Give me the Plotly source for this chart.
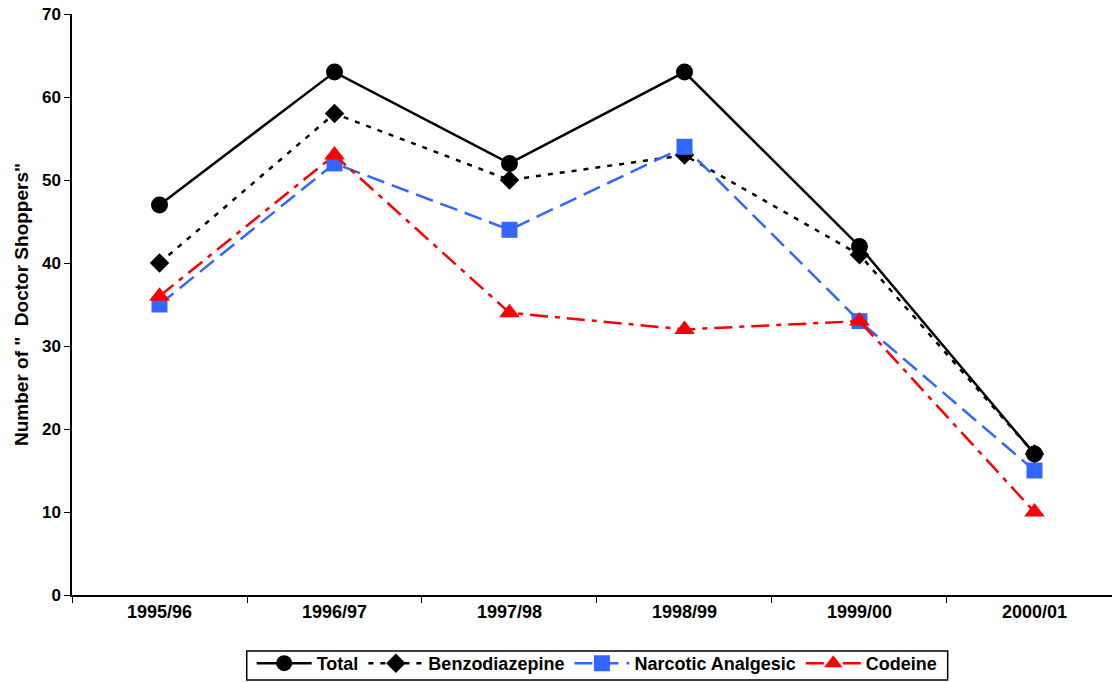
import plotly.graph_objects as go

years = ["1995/96", "1996/97", "1997/98", "1998/99", "1999/00", "2000/01"]
total = [47, 63, 52, 63, 42, 17]
benzo = [40, 58, 50, 53, 41, 17]
narcotic = [35, 52, 44, 54, 33, 15]
codeine = [36, 53, 34, 32, 33, 10]

fig = go.Figure()
fig.add_trace(go.Scatter(x=years, y=total, name="Total", mode="lines+markers",
                         line=dict(color="black", width=2.5),
                         marker=dict(symbol="circle", size=17, color="black")))
fig.add_trace(go.Scatter(x=years, y=benzo, name="Benzodiazepine", mode="lines+markers",
                         line=dict(color="black", width=2.5, dash="5px,7px"),
                         marker=dict(symbol="diamond", size=15, color="black")))
fig.add_trace(go.Scatter(x=years, y=narcotic, name="Narcotic Analgesic", mode="lines+markers",
                         line=dict(color="#3366FF", width=2.5, dash="18px,8px"),
                         marker=dict(symbol="square", size=16, color="#3366FF")))
fig.add_trace(go.Scatter(x=years, y=codeine, name="Codeine", mode="lines+markers",
                         line=dict(color="#FF0000", width=2.5, dash="18px,7px,5px,7px"),
                         marker=dict(symbol="triangle-up", size=18, color="#FF0000")))

font_main = "Liberation Sans, Arial, sans-serif"
fig.update_layout(
    width=1112, height=682,
    margin=dict(l=72, r=0, t=14, b=87, autoexpand=False),
    paper_bgcolor="white", plot_bgcolor="white",
    font=dict(family=font_main, color="black", size=15),
    showlegend=True,
    legend=dict(orientation="h", x=0.505, xanchor="center", y=-0.086, yanchor="top",
                bordercolor="black", borderwidth=0, bgcolor="rgba(0,0,0,0)",
                font=dict(family=font_main, size=18, color="black", weight="bold"),
                itemwidth=55, tracegroupgap=0),
    xaxis=dict(type="category", categoryorder="array", categoryarray=years,
               range=[-0.5, 5.443], showgrid=False, showline=True, linecolor="black",
               linewidth=1.5, ticks="outside", tickson="boundaries", ticklen=6,
               tickcolor="black", tickfont=dict(family=font_main, size=18, weight="bold"),
               zeroline=False, automargin=False),
    yaxis=dict(range=[0, 70], dtick=10, showgrid=False, showline=True, linecolor="black",
               linewidth=1.5, ticks="outside", ticklen=6, tickcolor="black",
               tickfont=dict(family=font_main, size=17, weight="bold"), zeroline=False,
               automargin=False,
               title=dict(text='Number of "  Doctor Shoppers"',
                          font=dict(family=font_main, size=19, weight="bold"), standoff=8)),
)
# legend frame
fig.add_shape(type="rect", xref="paper", yref="paper", x0=0.168, x1=0.842,
              y0=-0.1463, y1=-0.0964, line=dict(color="black", width=1.5),
              fillcolor="rgba(0,0,0,0)", layer="below")

fig.write_html("out.html")
